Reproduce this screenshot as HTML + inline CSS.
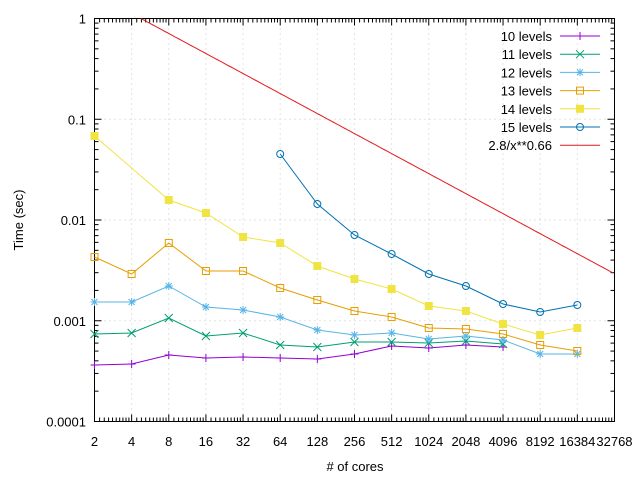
<!DOCTYPE html>
<html><head><meta charset="utf-8"><style>
html,body{margin:0;padding:0;background:#fff;}
svg{display:block;font-family:"Liberation Sans","DejaVu Sans",sans-serif;}
</style></head><body>
<svg id="s" width="640" height="480" viewBox="0 0 640 480" xmlns="http://www.w3.org/2000/svg"></svg>
<script>
const s=document.getElementById('s');let h='';
const L=94.5,R=614.5,T=18.5,B=421.5,dx=37.14,dy=(B-T)/4;
// grid
for(let i=0;i<15;i++){const x=L+i*dx;h+=`<line x1="${x}" y1="${T}" x2="${x}" y2="${B}" stroke="#c8c8c8" stroke-dasharray="1,4"/>`;}
for(let j=0;j<5;j++){const y=T+j*dy;h+=`<line x1="${L}" y1="${y}" x2="${R}" y2="${y}" stroke="#c8c8c8" stroke-dasharray="1,4"/>`;}
// ticks
for(let i=0;i<15;i++){const x=L+i*dx;h+=`<line x1="${x}" y1="${B}" x2="${x}" y2="${B-7}" stroke="#000"/><line x1="${x}" y1="${T}" x2="${x}" y2="${T+7}" stroke="#000"/>`;
 if(i<14)for(let k=1;k<10;k++){const xm=x+Math.log2(1+k/10)*dx;h+=`<line x1="${xm}" y1="${B}" x2="${xm}" y2="${B-4}" stroke="#000"/><line x1="${xm}" y1="${T}" x2="${xm}" y2="${T+4}" stroke="#000"/>`;}
 const lab=[2,4,8,16,32,64,128,256,512,1024,2048,4096,8192,16384,32768][i];
 h+=`<text x="${x}" y="446" font-size="13" text-anchor="middle">${lab}</text>`;}
const yl=['1','0.1','0.01','0.001','0.0001'];
for(let j=0;j<5;j++){const y=T+j*dy;h+=`<line x1="${L}" y1="${y}" x2="${L+7}" y2="${y}" stroke="#000"/><line x1="${R}" y1="${y}" x2="${R-7}" y2="${y}" stroke="#000"/>`;
 h+=`<text x="86" y="${y+5}" font-size="13" text-anchor="end">${yl[j]}</text>`;
 if(j<4)for(let k=2;k<10;k++){const ym=y+dy-Math.log10(k)*dy;h+=`<line x1="${L}" y1="${ym}" x2="${L+4}" y2="${ym}" stroke="#000"/><line x1="${R}" y1="${ym}" x2="${R-4}" y2="${ym}" stroke="#000"/>`;}}
h+=`<rect x="${L}" y="${T}" width="${R-L}" height="${B-T}" fill="none" stroke="#000"/>`;
h+=`<text x="355" y="471" font-size="13" text-anchor="middle"># of cores</text>`;
h+=`<text transform="translate(23,220) rotate(-90)" font-size="13" text-anchor="middle">Time (sec)</text>`;
// red line
let pts=[];for(let x=141;x<=R;x+=2){const c=Math.pow(2,1+(x-L)/dx);const v=2.8/Math.pow(c,0.66);const y=T-Math.log10(v)*dy;if(y>=T)pts.push(x+','+y.toFixed(1));}
h+=`<polyline points="${pts.join(' ')}" fill="none" stroke="#e41a1c"/>`;
const X=i=>L+i*dx;
const series=[
['#9400d3','plus',[365,364,355,358,357,358,359,354,346,348,345,347]],
['#009e73','x',[334,333,318,336,333,345,347,342,342,343,341,344]],
['#56b4e9','star',[302,302,286,307,310,317,330,335,333,339,336,340,354,354]],
['#e69f00','sq',[257,274,243,271,271,288,300,311,317,328,329,334,345,351]],
['#f0e442','fsq',[136,null,200,213,237,243,266,279,289,306,311,324,335,328]],
['#0072b2','circ',[null,null,null,null,null,154,204,235,254,274,286,304,312,305]]];
function mk(t,x,y,c){
 if(t=='plus')return `<path d="M${x-4},${y}H${x+4}M${x},${y-4}V${y+4}" stroke="${c}"/>`;
 if(t=='x')return `<path d="M${x-4},${y-4}L${x+4},${y+4}M${x-4},${y+4}L${x+4},${y-4}" stroke="${c}"/>`;
 if(t=='star')return `<path d="M${x-4},${y}H${x+4}M${x},${y-4}V${y+4}M${x-3},${y-3}L${x+3},${y+3}M${x-3},${y+3}L${x+3},${y-3}" stroke="${c}"/>`;
 if(t=='sq')return `<rect x="${x-3.5}" y="${y-3.5}" width="7" height="7" fill="none" stroke="${c}"/>`;
 if(t=='fsq')return `<rect x="${x-4}" y="${y-4}" width="8" height="8" fill="${c}"/>`;
 return `<circle cx="${x}" cy="${y}" r="3.5" fill="none" stroke="${c}"/>`;}
series.forEach(([c,t,ys],si)=>{
 const p=[];ys.forEach((y,i)=>{if(y!=null)p.push([X(i),y]);});
 h+=`<polyline points="${p.map(a=>a.join(',')).join(' ')}" fill="none" stroke="${c}"/>`;
 p.forEach(a=>h+=mk(t,a[0],a[1],c));
 const ly=36+si*18.2;
 h+=`<text x="552" y="${ly+5}" font-size="13" text-anchor="end">${10+si} levels</text>`;
 h+=`<line x1="560" y1="${ly}" x2="600" y2="${ly}" stroke="${c}"/>`+mk(t,580,ly,c);
});
const ly=36+6*18.2;
h+=`<text x="552" y="${ly+5}" font-size="13" text-anchor="end">2.8/x**0.66</text><line x1="560" y1="${ly}" x2="600" y2="${ly}" stroke="#e41a1c"/>`;
s.innerHTML=h;
</script>
</body></html>
